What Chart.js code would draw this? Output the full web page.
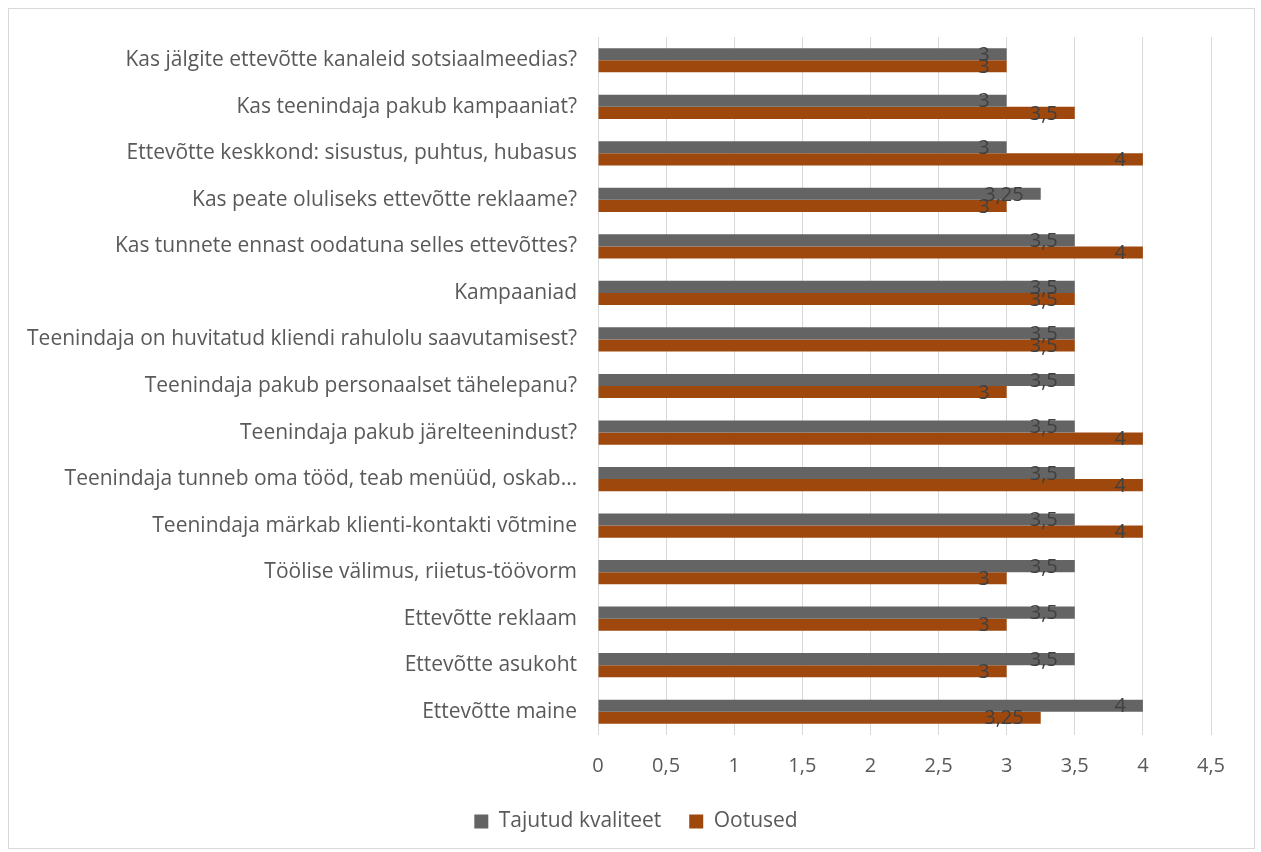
<!DOCTYPE html>
<html>
<head>
<meta charset="utf-8">
<script src="https://cdn.jsdelivr.net/npm/chart.js@4.4.1/dist/chart.umd.min.js"></script>
<style>
  html, body { margin: 0; padding: 0; background: #fff; }
  #wrap { width: 1261px; height: 852px; position: relative; }
</style>
</head>
<body>
<div id="wrap"><canvas id="chart"></canvas></div>
<script>
const categories = [
  'Kas jälgite ettevõtte kanaleid sotsiaalmeedias?',
  'Kas teenindaja pakub kampaaniat?',
  'Ettevõtte keskkond: sisustus, puhtus, hubasus',
  'Kas peate oluliseks ettevõtte reklaame?',
  'Kas tunnete ennast oodatuna selles ettevõttes?',
  'Kampaaniad',
  'Teenindaja on huvitatud kliendi rahulolu saavutamisest?',
  'Teenindaja pakub personaalset tähelepanu?',
  'Teenindaja pakub järelteenindust?',
  'Teenindaja tunneb oma tööd, teab menüüd, oskab…',
  'Teenindaja märkab klienti-kontakti võtmine',
  'Töölise välimus, riietus-töövorm',
  'Ettevõtte reklaam',
  'Ettevõtte asukoht',
  'Ettevõtte maine'
];
const tajutudKvaliteet = [3, 3, 3, 3.25, 3.5, 3.5, 3.5, 3.5, 3.5, 3.5, 3.5, 3.5, 3.5, 3.5, 4];
const ootused = [3, 3.5, 4, 3, 4, 3.5, 3.5, 3, 4, 4, 4, 3, 3, 3, 3.25];
const xTicks = [0, 0.5, 1, 1.5, 2, 2.5, 3, 3.5, 4, 4.5];

const FONT = '"Open Sans", sans-serif';
const fmt = v => String(v).replace('.', ',');

// light frame around the whole chart
const frame = {
  id: 'frame',
  beforeDraw(chart) {
    const ctx = chart.ctx;
    ctx.save();
    ctx.strokeStyle = '#d9d9d9';
    ctx.lineWidth = 1;
    ctx.strokeRect(8.5, 8.5, 1246, 840);
    ctx.restore();
  }
};

// nudge the legend so it sits centred on the page instead of under the labels
const legendShift = {
  id: 'legendShift',
  afterLayout(chart) {
    if (chart.legend) chart.legend.left += 61;
  }
};

// value labels just inside the end of each bar
const valueLabels = {
  id: 'valueLabels',
  afterDatasetsDraw(chart) {
    const ctx = chart.ctx;
    ctx.save();
    ctx.font = '20px ' + FONT;
    ctx.fillStyle = '#404040';
    ctx.textAlign = 'right';
    ctx.textBaseline = 'middle';
    chart.data.datasets.forEach((ds, i) => {
      chart.getDatasetMeta(i).data.forEach((bar, j) => {
        ctx.fillText(fmt(ds.data[j]), bar.x - 17, bar.y + 1);
      });
    });
    ctx.restore();
  }
};

new Chart(document.getElementById('chart'), {
  type: 'bar',
  data: {
    labels: categories,
    datasets: [
      {
        label: 'Tajutud kvaliteet',
        data: tajutudKvaliteet,
        backgroundColor: '#646464',
        categoryPercentage: 0.52,
        barPercentage: 1.0
      },
      {
        label: 'Ootused',
        data: ootused,
        backgroundColor: '#9e480e',
        categoryPercentage: 0.52,
        barPercentage: 1.0
      }
    ]
  },
  options: {
    indexAxis: 'y',
    responsive: true,
    maintainAspectRatio: false,
    animation: false,
    layout: { padding: { top: 37, right: 50, bottom: 10, left: 0 } },
    plugins: {
      tooltip: { enabled: false },
      legend: {
        position: 'bottom',
        labels: {
          color: '#595959',
          font: { family: FONT, size: 21 },
          boxWidth: 14,
          boxHeight: 14,
          padding: 28
        }
      }
    },
    scales: {
      x: {
        min: 0,
        max: 4.5,
        afterBuildTicks: scale => { scale.ticks = xTicks.map(v => ({ value: v })); },
        afterFit: scale => { scale.height = 48; },
        grid: { color: '#d9d9d9', drawTicks: false },
        border: { display: false },
        ticks: {
          color: '#595959',
          font: { family: FONT, size: 20 },
          padding: 19,
          callback: v => fmt(v)
        }
      },
      y: {
        afterFit: scale => { scale.width = 598; },
        grid: { display: false },
        border: { display: false },
        ticks: {
          color: '#595959',
          font: { family: FONT, size: 21 },
          padding: 13,
          autoSkip: false
        }
      }
    }
  },
  plugins: [frame, legendShift, valueLabels]
});
</script>
</body>
</html>
